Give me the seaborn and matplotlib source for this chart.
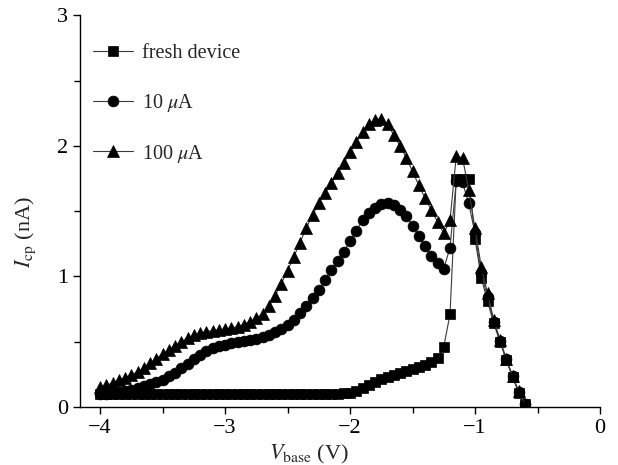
import numpy as np
import pandas as pd
import matplotlib
matplotlib.use("Agg")
import matplotlib.pyplot as plt
from matplotlib.ticker import MultipleLocator
import seaborn as sns

# ---- data ----
v_base = [-4.00, -3.95, -3.90, -3.85, -3.80, -3.75, -3.70, -3.65, -3.60, -3.55,
          -3.50, -3.45, -3.40, -3.35, -3.30, -3.25, -3.20, -3.15, -3.10, -3.05,
          -3.00, -2.95, -2.90, -2.85, -2.80, -2.75, -2.70, -2.65, -2.60, -2.55,
          -2.50, -2.45, -2.40, -2.35, -2.30, -2.25, -2.20, -2.15, -2.10, -2.05,
          -2.00, -1.95, -1.90, -1.85, -1.80, -1.75, -1.70, -1.65, -1.60, -1.55,
          -1.50, -1.45, -1.40, -1.35, -1.30, -1.25, -1.20, -1.15, -1.10, -1.05,
          -1.00, -0.95, -0.90, -0.85, -0.80, -0.75, -0.70, -0.65, -0.60]

fresh = [0.10, 0.10, 0.10, 0.10, 0.10, 0.10, 0.10, 0.10, 0.10, 0.10,
         0.10, 0.10, 0.10, 0.10, 0.10, 0.10, 0.10, 0.10, 0.10, 0.10,
         0.10, 0.10, 0.10, 0.10, 0.10, 0.10, 0.10, 0.10, 0.10, 0.10,
         0.10, 0.10, 0.10, 0.10, 0.10, 0.10, 0.10, 0.10, 0.10, 0.105,
         0.105, 0.12, 0.145, 0.17, 0.195, 0.215, 0.232, 0.248, 0.262, 0.278,
         0.292, 0.308, 0.322, 0.345, 0.372, 0.46, 0.71, 1.75, 1.75, 1.75,
         1.29, 0.99, 0.81, 0.64, 0.50, 0.36, 0.23, 0.11, 0.02]

i_10uA = [0.10, 0.103, 0.107, 0.112, 0.12, 0.13, 0.145, 0.16, 0.175, 0.19,
          0.21, 0.235, 0.262, 0.295, 0.33, 0.365, 0.40, 0.43, 0.452, 0.467,
          0.478, 0.488, 0.496, 0.503, 0.51, 0.522, 0.537, 0.553, 0.572, 0.595,
          0.625, 0.665, 0.72, 0.775, 0.835, 0.90, 0.97, 1.05, 1.12, 1.19,
          1.27, 1.35, 1.43, 1.485, 1.525, 1.555, 1.56, 1.545, 1.51, 1.46,
          1.39, 1.31, 1.23, 1.155, 1.10, 1.06, 1.22, 1.73, 1.72, 1.56,
          1.33, 1.03, 0.84, 0.655, 0.505, 0.365, 0.235, 0.115, 0.02]

i_100uA = [0.15, 0.165, 0.185, 0.205, 0.225, 0.245, 0.27, 0.30, 0.335, 0.37,
           0.405, 0.44, 0.47, 0.50, 0.527, 0.55, 0.567, 0.578, 0.585, 0.59,
           0.597, 0.605, 0.615, 0.632, 0.655, 0.68, 0.715, 0.77, 0.85, 0.945,
           1.045, 1.15, 1.26, 1.37, 1.47, 1.56, 1.64, 1.715, 1.79, 1.87,
           1.95, 2.03, 2.11, 2.165, 2.20, 2.21, 2.165, 2.085, 2.0, 1.91,
           1.805, 1.70, 1.60, 1.51, 1.42, 1.33, 1.43, 1.92, 1.91, 1.66,
           1.37, 1.075, 0.87, 0.67, 0.515, 0.37, 0.24, 0.12, 0.02]

series_labels = ["fresh device", r"10 $\mu$A", r"100 $\mu$A"]
x_ticks = [-4, -3, -2, -1, 0]
x_tick_labels = ["\u22124", "\u22123", "\u22122", "\u22121", "0"]
y_ticks = [0, 1, 2, 3]

# ---- style ----
sns.set_theme(style="ticks")
plt.rcParams["font.family"] = ["Liberation Serif", "DejaVu Serif"]
plt.rcParams["mathtext.fontset"] = "stix"
plt.rcParams["axes.unicode_minus"] = True

fig = plt.figure(figsize=(6.18, 4.65), dpi=100)
ax = fig.add_axes([80 / 618, 58 / 465, 520 / 618, 391.6 / 465])

df = pd.DataFrame({"V": v_base, "fresh": fresh, "10": i_10uA, "100": i_100uA})

specs = [("fresh", "s", 7.0), ("10", "o", 7.8), ("100", "^", 8.6)]
for (col, mk, ms), lab in zip(specs, series_labels):
    sns.lineplot(data=df, x="V", y=col, ax=ax, label=lab, marker=mk,
                 markersize=ms, color="#3a3a3a", linewidth=0.8,
                 markerfacecolor="black", markeredgecolor="black",
                 markeredgewidth=0.5, sort=False, estimator=None)

ax.set_xlim(-4.16, 0)
ax.set_ylim(0, 3)
ax.set_xticks(x_ticks)
ax.set_xticklabels(x_tick_labels)
ax.set_yticks(y_ticks)
ax.xaxis.set_minor_locator(MultipleLocator(0.5))
ax.yaxis.set_minor_locator(MultipleLocator(0.5))
ax.tick_params(axis="both", which="major", direction="out", length=5,
               width=1.0, labelsize=16, color="black", labelcolor="black")
ax.tick_params(axis="both", which="minor", direction="out", length=4.5,
               width=1.0, color="black")

for s in ["top", "right"]:
    ax.spines[s].set_visible(False)
for s in ["left", "bottom"]:
    ax.spines[s].set_linewidth(1.0)
    ax.spines[s].set_color("black")

ax.set_xlabel(r"$V_{\rm base}$ (V)", fontsize=16)
ax.set_ylabel(r"$I_{\rm cp}$ (nA)", fontsize=16)
ax.xaxis.set_label_coords(0.44, -0.092)
ax.yaxis.set_label_coords(-0.08, 0.447)

leg = ax.legend(loc="upper left", bbox_to_anchor=(0.009, 0.947), frameon=False,
                fontsize=14.5, handlelength=2.0, handletextpad=0.45,
                labelspacing=1.42, numpoints=1, borderaxespad=0)

fig.savefig("out.png", dpi=100)
